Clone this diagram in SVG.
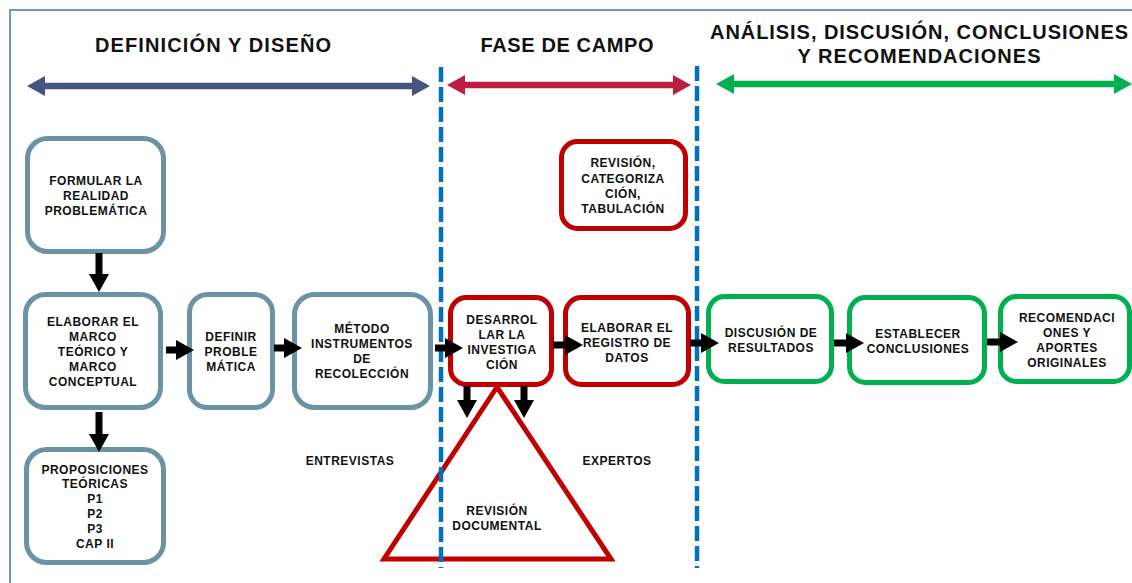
<svg xmlns="http://www.w3.org/2000/svg" width="1132" height="583" viewBox="0 0 1132 583">
<defs>
<style>
.lbl{font-family:"Liberation Sans",Arial,sans-serif;font-weight:bold;font-size:12px;letter-spacing:0.5px;fill:#111;text-anchor:middle}
.hdr{font-family:"Liberation Sans",Arial,sans-serif;font-weight:bold;font-size:20px;fill:#111;text-anchor:middle}
.teal{fill:#fff;stroke:#6B93A3;stroke-width:5}
.red{fill:#fff;stroke:#C00000;stroke-width:5}
.grn{fill:#fff;stroke:#00B050;stroke-width:5}
.blk{stroke:#000;stroke-width:7;fill:none}
.dash{stroke:#0070C0;stroke-width:4.5;stroke-dasharray:15 5;fill:none}
</style>
<marker id="ah" viewBox="0 0 18 20" refX="8" refY="10" markerWidth="18" markerHeight="20" markerUnits="userSpaceOnUse" orient="auto">
<path d="M0,0 L18,10 L0,20 Z" fill="#000"/>
</marker>
<marker id="hb" viewBox="0 0 18 20" refX="8" refY="10" markerWidth="18" markerHeight="20" markerUnits="userSpaceOnUse" orient="auto-start-reverse">
<path d="M0,0 L18,10 L0,20 Z" fill="#45557F"/>
</marker>
<marker id="hr" viewBox="0 0 18 20" refX="8" refY="10" markerWidth="18" markerHeight="20" markerUnits="userSpaceOnUse" orient="auto-start-reverse">
<path d="M0,0 L18,10 L0,20 Z" fill="#BE1E42"/>
</marker>
<marker id="hg" viewBox="0 0 18 20" refX="8" refY="10" markerWidth="18" markerHeight="20" markerUnits="userSpaceOnUse" orient="auto-start-reverse">
<path d="M0,0 L18,10 L0,20 Z" fill="#00B050"/>
</marker>
</defs>
<rect width="1132" height="583" fill="#fff"/>
<rect x="10" y="10" width="1130" height="580" fill="none" stroke="#6A98D4" stroke-width="2"/>

<g id="headers">
<text class="hdr" x="213" y="52" textLength="236" lengthAdjust="spacing">DEFINICIÓN Y DISEÑO</text>
<text class="hdr" x="567" y="52" textLength="173" lengthAdjust="spacing">FASE DE CAMPO</text>
<text class="hdr" x="919" y="39" textLength="418" lengthAdjust="spacing">ANÁLISIS, DISCUSIÓN, CONCLUSIONES</text>
<text class="hdr" x="919" y="63" textLength="243" lengthAdjust="spacing">Y RECOMENDACIONES</text>
<line x1="37" y1="86" x2="420" y2="86" stroke="#45557F" stroke-width="6.5" marker-start="url(#hb)" marker-end="url(#hb)"/>
<line x1="457" y1="85" x2="681" y2="85" stroke="#BE1E42" stroke-width="6.5" marker-start="url(#hr)" marker-end="url(#hr)"/>
<line x1="726" y1="84" x2="1122" y2="84" stroke="#00B050" stroke-width="6.5" marker-start="url(#hg)" marker-end="url(#hg)"/>
</g>

<g id="n-formular">
<rect class="teal" x="27.5" y="138.5" width="136" height="113" rx="20"/>
<text class="lbl" x="96" y="185">FORMULAR LA</text>
<text class="lbl" x="96" y="200">REALIDAD</text>
<text class="lbl" x="96" y="215">PROBLEMÁTICA</text>
</g>
<g id="n-elaborar-marco">
<rect class="teal" x="25.5" y="294.5" width="135" height="113" rx="20"/>
<text class="lbl" x="93" y="326">ELABORAR EL</text>
<text class="lbl" x="93" y="341">MARCO</text>
<text class="lbl" x="93" y="356">TEÓRICO Y</text>
<text class="lbl" x="93" y="371">MARCO</text>
<text class="lbl" x="93" y="386">CONCEPTUAL</text>
</g>
<g id="n-definir">
<rect class="teal" x="189.5" y="294.5" width="83" height="113" rx="18"/>
<text class="lbl" x="231" y="341">DEFINIR</text>
<text class="lbl" x="231" y="356">PROBLE</text>
<text class="lbl" x="231" y="371">MÁTICA</text>
</g>
<g id="n-metodo">
<rect class="teal" x="294.5" y="294.5" width="136" height="113" rx="20"/>
<text class="lbl" x="362" y="333">MÉTODO</text>
<text class="lbl" x="362" y="348">INSTRUMENTOS</text>
<text class="lbl" x="362" y="363">DE</text>
<text class="lbl" x="362" y="378">RECOLECCIÓN</text>
</g>
<g id="n-proposiciones">
<rect class="teal" x="26.5" y="449.5" width="137" height="113" rx="20"/>
<text class="lbl" x="95" y="474">PROPOSICIONES</text>
<text class="lbl" x="95" y="488">TEÓRICAS</text>
<text class="lbl" x="95" y="503">P1</text>
<text class="lbl" x="95" y="518">P2</text>
<text class="lbl" x="95" y="533">P3</text>
<text class="lbl" x="95" y="548">CAP II</text>
</g>
<g id="n-entrevistas">
<text class="lbl" x="350" y="465">ENTREVISTAS</text>
</g>
<g id="n-revision-doc">
<polygon points="497,387 384,559 611,559" fill="none" stroke="#C00000" stroke-width="5"/>
<text class="lbl" x="497" y="515">REVISIÓN</text>
<text class="lbl" x="497" y="530">DOCUMENTAL</text>
</g>
<g id="n-revision">
<rect class="red" x="561.5" y="141.5" width="124" height="87" rx="16"/>
<text class="lbl" x="623" y="167">REVISIÓN,</text>
<text class="lbl" x="623" y="183">CATEGORIZA</text>
<text class="lbl" x="623" y="198">CIÓN,</text>
<text class="lbl" x="623" y="213">TABULACIÓN</text>
</g>
<g id="n-desarrollar">
<rect class="red" x="450.5" y="297.5" width="101" height="87" rx="16"/>
<text class="lbl" x="502" y="324">DESARROL</text>
<text class="lbl" x="502" y="339">LAR LA</text>
<text class="lbl" x="502" y="354">INVESTIGA</text>
<text class="lbl" x="502" y="369">CIÓN</text>
</g>
<g id="n-registro">
<rect class="red" x="565.5" y="297.5" width="123" height="87" rx="16"/>
<text class="lbl" x="627" y="332">ELABORAR EL</text>
<text class="lbl" x="627" y="347">REGISTRO DE</text>
<text class="lbl" x="627" y="362">DATOS</text>
</g>
<g id="n-expertos">
<text class="lbl" x="617" y="465">EXPERTOS</text>
</g>
<g id="n-discusion">
<rect class="grn" x="708.5" y="296.5" width="123" height="85" rx="16"/>
<text class="lbl" x="771" y="337">DISCUSIÓN DE</text>
<text class="lbl" x="771" y="352">RESULTADOS</text>
</g>
<g id="n-establecer">
<rect class="grn" x="849.5" y="297.5" width="135" height="85" rx="16"/>
<text class="lbl" x="918" y="338">ESTABLECER</text>
<text class="lbl" x="918" y="353">CONCLUSIONES</text>
</g>
<g id="n-recomendaciones">
<rect class="grn" x="1000.5" y="296.5" width="129" height="85" rx="16"/>
<text class="lbl" x="1067" y="322">RECOMENDACI</text>
<text class="lbl" x="1067" y="337">ONES Y</text>
<text class="lbl" x="1067" y="352">APORTES</text>
<text class="lbl" x="1067" y="367">ORIGINALES</text>
</g>

<g id="phase-dividers">
<line class="dash" x1="441" y1="67" x2="441" y2="568"/>
<line class="dash" x1="697" y1="66" x2="697" y2="568"/>
</g>

<g id="connectors">
<line class="blk" x1="99" y1="253" x2="99" y2="282" marker-end="url(#ah)"/>
<line class="blk" x1="99" y1="412" x2="99" y2="442" marker-end="url(#ah)"/>
<line class="blk" x1="166" y1="350" x2="184" y2="350" marker-end="url(#ah)"/>
<line class="blk" x1="274" y1="348" x2="292" y2="348" marker-end="url(#ah)"/>
<line class="blk" x1="435" y1="348" x2="453" y2="348" marker-end="url(#ah)"/>
<line class="blk" x1="553" y1="345" x2="573" y2="345" marker-end="url(#ah)"/>
<line class="blk" x1="690" y1="343" x2="709" y2="343" marker-end="url(#ah)"/>
<line class="blk" x1="834" y1="343" x2="854" y2="343" marker-end="url(#ah)"/>
<line class="blk" x1="987" y1="342" x2="1008" y2="342" marker-end="url(#ah)"/>
<line class="blk" x1="467" y1="386" x2="467" y2="408" marker-end="url(#ah)"/>
<line class="blk" x1="524" y1="386" x2="524" y2="408" marker-end="url(#ah)"/>
</g>
</svg>
